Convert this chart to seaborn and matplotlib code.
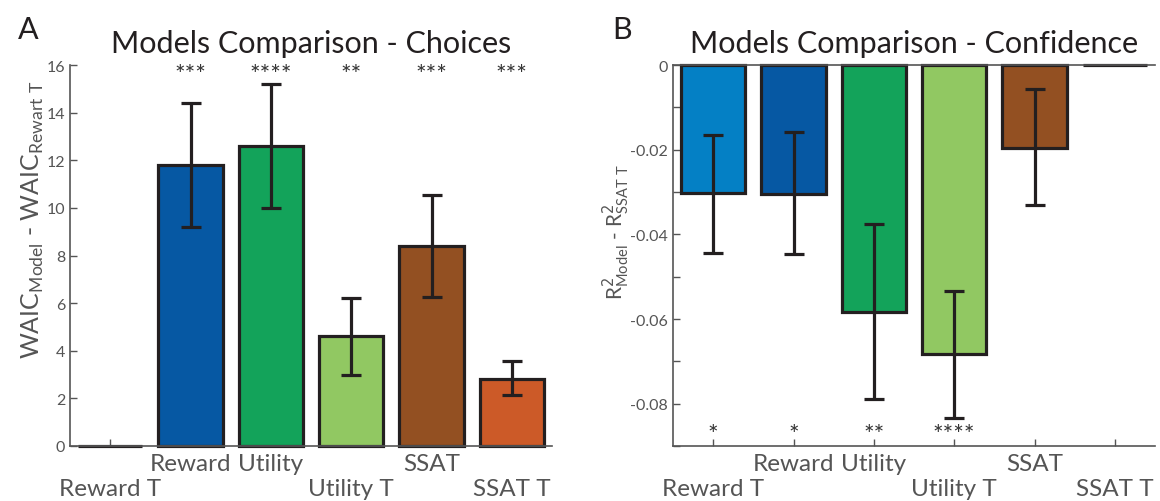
import numpy as np
import pandas as pd
import matplotlib
matplotlib.use('Agg')
import matplotlib.pyplot as plt
import seaborn as sns

# dane
models = ['Reward T', 'Reward', 'Utility', 'Utility T', 'SSAT', 'SSAT T']
model_colors = ['#0480c5', '#0658a3', '#13a35a', '#91c862', '#935022', '#cc5a28']
lower_row = ['Reward T', 'Utility T', 'SSAT T']  # etykiety w dolnym rzedzie

# panel A - WAIC
waic_diff = [0.0, 11.80, 12.58, 4.60, 8.41, 2.83]
waic_lo = [0.0, 9.21, 9.99, 2.98, 6.24, 2.14]
waic_hi = [0.0, 14.39, 15.20, 6.20, 10.55, 3.55]
waic_stars = ['', '***', '****', '**', '***', '***']
waic_ticks = [0, 2, 4, 6, 8, 10, 12, 14, 16]

# panel B - R2
r2_diff = [-0.0303, -0.0304, -0.0583, -0.0683, -0.0195, 0.0]
r2_lo = [-0.0443, -0.0447, -0.0788, -0.0834, -0.0331, 0.0]
r2_hi = [-0.0166, -0.0159, -0.0376, -0.0533, -0.0057, 0.0]
r2_stars = ['*', '*', '**', '****', '', '']
r2_ticks = [-0.08, -0.06, -0.04, -0.02, 0]
r2_ticklabels = ['-0.08', '-0.06', '-0.04', '-0.02', '0']
r2_minor = [-0.09, -0.07, -0.05, -0.03, -0.01]

sns.set_style('ticks')
plt.rcParams['font.family'] = ['Lato', 'DejaVu Sans']
plt.rcParams['axes.unicode_minus'] = False

palette = dict(zip(models, model_colors))
EDGE = '#231f20'
GRAY = '#555555'

fig = plt.figure(figsize=(11.6, 5.02), dpi=100)
axA = fig.add_axes([70 / 1160, 55 / 502, 482 / 1160, 381 / 502])
axB = fig.add_axes([673 / 1160, 55 / 502, 482 / 1160, 381 / 502])


def draw_panel(ax, vals, lo, hi, stars, star_y):
    df = pd.DataFrame({'model': models, 'value': vals})
    sns.barplot(data=df, x='model', y='value', hue='model', palette=palette,
                legend=False, edgecolor=EDGE, linewidth=2.3, width=0.8,
                errorbar=None, saturation=1, ax=ax)
    for p in ax.patches:
        p.set_clip_on(False)
    x = np.arange(len(models))
    v, l, h = np.array(vals), np.array(lo), np.array(hi)
    m = h > l
    ax.errorbar(x[m], v[m], yerr=[v[m] - l[m], h[m] - v[m]], fmt='none',
                ecolor=EDGE, elinewidth=2.3, capsize=7, capthick=2.3)
    for xi, s in zip(x, stars):
        if s:
            ax.text(xi, star_y, s, ha='center', va='center', fontsize=18, color='#333333')

    # etykiety w dwoch rzedach
    up = [i for i, n in enumerate(models) if n not in lower_row]
    dn = [i for i, n in enumerate(models) if n in lower_row]
    ax.set_xticks(up, labels=[models[i] for i in up])
    ax.set_xticks(dn, labels=[models[i] for i in dn], minor=True)
    ax.set_xlim(-0.5, 5.5)
    ax.set_xlabel('')
    ax.tick_params(which='both', direction='in', length=5, width=1, color=GRAY, labelcolor=GRAY)
    ax.tick_params(axis='y', labelsize=11.5)
    ax.tick_params(axis='x', which='both', labelsize=17.5)
    ax.tick_params(axis='x', which='major', pad=5)
    ax.tick_params(axis='x', which='minor', pad=23)
    for s in ax.spines.values():
        s.set_color(GRAY)
        s.set_linewidth(1.2)


# Panel A
draw_panel(axA, waic_diff, waic_lo, waic_hi, waic_stars, 15.6)
axA.set_ylim(0, 16)
axA.set_yticks(waic_ticks)
sns.despine(ax=axA)
axA.set_title('Models Comparison - Choices', fontsize=22, pad=9, color='#231f20')
axA.set_ylabel(r'WAIC$_{\mathregular{Model}}$ - WAIC$_{\mathregular{Rewart\ T}}$',
               fontsize=18, color=GRAY)
axA.yaxis.set_label_coords(-0.05, 0.596)

# Panel B
draw_panel(axB, r2_diff, r2_lo, r2_hi, r2_stars, -0.0872)
axB.set_ylim(-0.09, 0)
axB.set_yticks(r2_ticks)
axB.set_yticklabels(r2_ticklabels)
axB.set_yticks(r2_minor, minor=True)
axB.tick_params(axis='y', which='minor', direction='in', length=5, width=1, color=GRAY)
axB.spines['right'].set_visible(False)
axB.set_title('Models Comparison - Confidence', fontsize=22, pad=9, color='#231f20')
axB.set_ylabel(r'R$^{2}_{\mathregular{Model}}$ - R$^{2}_{\mathregular{SSAT\ T}}$',
               fontsize=15, color=GRAY)
axB.yaxis.set_label_coords(-0.085, 0.565)

fig.text(18 / 1160, 1 - 30 / 502, 'A', fontsize=22, va='center', color='#231f20')
fig.text(612 / 1160, 1 - 30 / 502, 'B', fontsize=22, va='center', color='#231f20')

fig.savefig('out.png', dpi=100)
